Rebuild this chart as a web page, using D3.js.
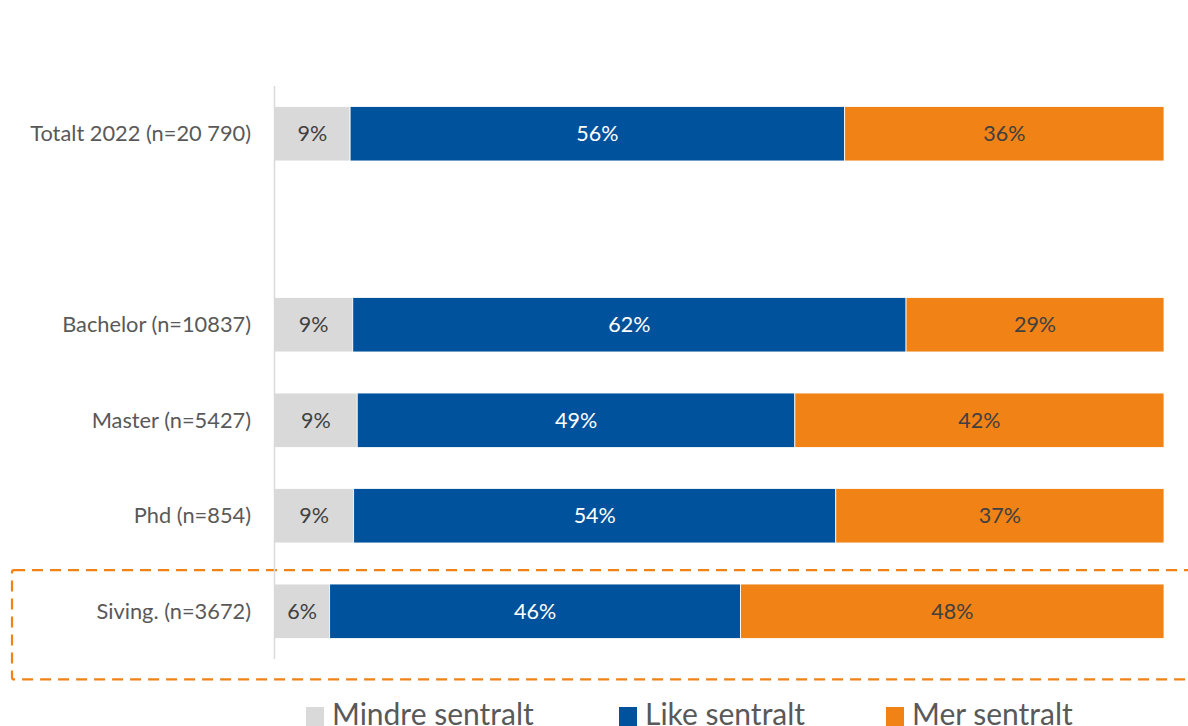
<!DOCTYPE html>
<html>
<head>
<meta charset="utf-8">
<script src="https://cdn.jsdelivr.net/npm/d3@7"></script>
<style>
  body { margin: 0; background: #fff; }
  text { font-family: Lato, "Open Sans", sans-serif; }
</style>
</head>
<body>
<div id="chart"></div>
<script>
// categories (empty slot between total and the groups)
var categories = ["Totalt 2022 (n=20 790)", "", "Bachelor (n=10837)", "Master (n=5427)", "Phd (n=854)", "Siving. (n=3672)"]
var seriesNames = ["Mindre sentralt", "Like sentralt", "Mer sentralt"]
var mindre = [8.5, null, 8.8, 9.3, 8.9, 6.2]
var like   = [55.6, null, 62.2, 49.2, 54.2, 46.2]
var mer    = [35.9, null, 29.0, 41.5, 36.9, 47.6]

var colors = ["#D9D9D9", "#00529C", "#F08216"]
var labelColors = ["#404040", "#ffffff", "#404040"]

var W = 1188, H = 726
var svg = d3.select("#chart").append("svg")
  .attr("width", W)
  .attr("height", H)

var x = d3.scaleLinear().domain([0, 100]).range([274.5, 1164])
var y = d3.scaleBand().domain(categories).range([86, 659])
  .paddingInner(0.43).paddingOuter(0.215)

// build stack rows
var rows = categories.map(function(c, i) {
  return { cat: c, "Mindre sentralt": mindre[i], "Like sentralt": like[i], "Mer sentralt": mer[i] }
}).filter(function(d) { return d.cat !== "" })

var stacked = d3.stack().keys(seriesNames)(rows)

// dashed highlight around Siving.
var sivY = y("Siving. (n=3672)")
svg.append("rect")
  .attr("x", 12)
  .attr("y", sivY - 14)
  .attr("width", 1200)
  .attr("height", y.bandwidth() + 55)
  .attr("rx", 2)
  .attr("fill", "none")
  .attr("stroke", "#F08216")
  .attr("stroke-width", 2.2)
  .attr("stroke-dasharray", "11,7")

var groups = svg.selectAll("g.series")
  .data(stacked)
  .enter().append("g")
  .attr("class", "series")
  .attr("fill", function(d, i) { return colors[i] })

groups.selectAll("rect")
  .data(function(d) { return d })
  .enter().append("rect")
  .attr("x", function(d) { return x(d[0]) })
  .attr("y", function(d) { return y(d.data.cat) })
  .attr("width", function(d) { return x(d[1]) - x(d[0]) })
  .attr("height", y.bandwidth())
  .attr("stroke", "#ffffff")
  .attr("stroke-width", 0.8)

groups.selectAll("text")
  .data(function(d, i) { return d.map(function(p) { p.si = i; return p }) })
  .enter().append("text")
  .attr("x", function(d) { return (x(d[0]) + x(d[1])) / 2 })
  .attr("y", function(d) { return y(d.data.cat) + y.bandwidth() / 2 })
  .attr("dy", "0.35em")
  .attr("text-anchor", "middle")
  .style("font-size", "21.5px")
  .attr("fill", function(d) { return labelColors[d.si] })
  .text(function(d) { return Math.round(d[1] - d[0]) + "%" })

// axis line
svg.append("line")
  .attr("x1", 274.5).attr("x2", 274.5)
  .attr("y1", 86).attr("y2", 659)
  .attr("stroke", "#D9D9D9")
  .attr("stroke-width", 1.5)

// category labels
svg.selectAll("text.cat")
  .data(categories.filter(function(c) { return c !== "" }))
  .enter().append("text")
  .attr("class", "cat")
  .attr("x", 251)
  .attr("y", function(d) { return y(d) + y.bandwidth() / 2 })
  .attr("dy", "0.35em")
  .attr("text-anchor", "end")
  .style("font-size", "21.8px")
  .attr("fill", "#595959")
  .text(function(d) { return d })

// legend
var legendX = [306, 619, 886]
var legend = svg.selectAll("g.legend")
  .data(seriesNames)
  .enter().append("g")
  .attr("class", "legend")
  .attr("transform", function(d, i) { return "translate(" + legendX[i] + ",0)" })

legend.append("rect")
  .attr("x", 0).attr("y", 707)
  .attr("width", 18).attr("height", 19)
  .attr("fill", function(d, i) { return colors[i] })

legend.append("text")
  .attr("x", 26)
  .attr("y", 725)
  .style("font-size", "30px")
  .attr("fill", "#595959")
  .text(function(d) { return d })
</script>
</body>
</html>
